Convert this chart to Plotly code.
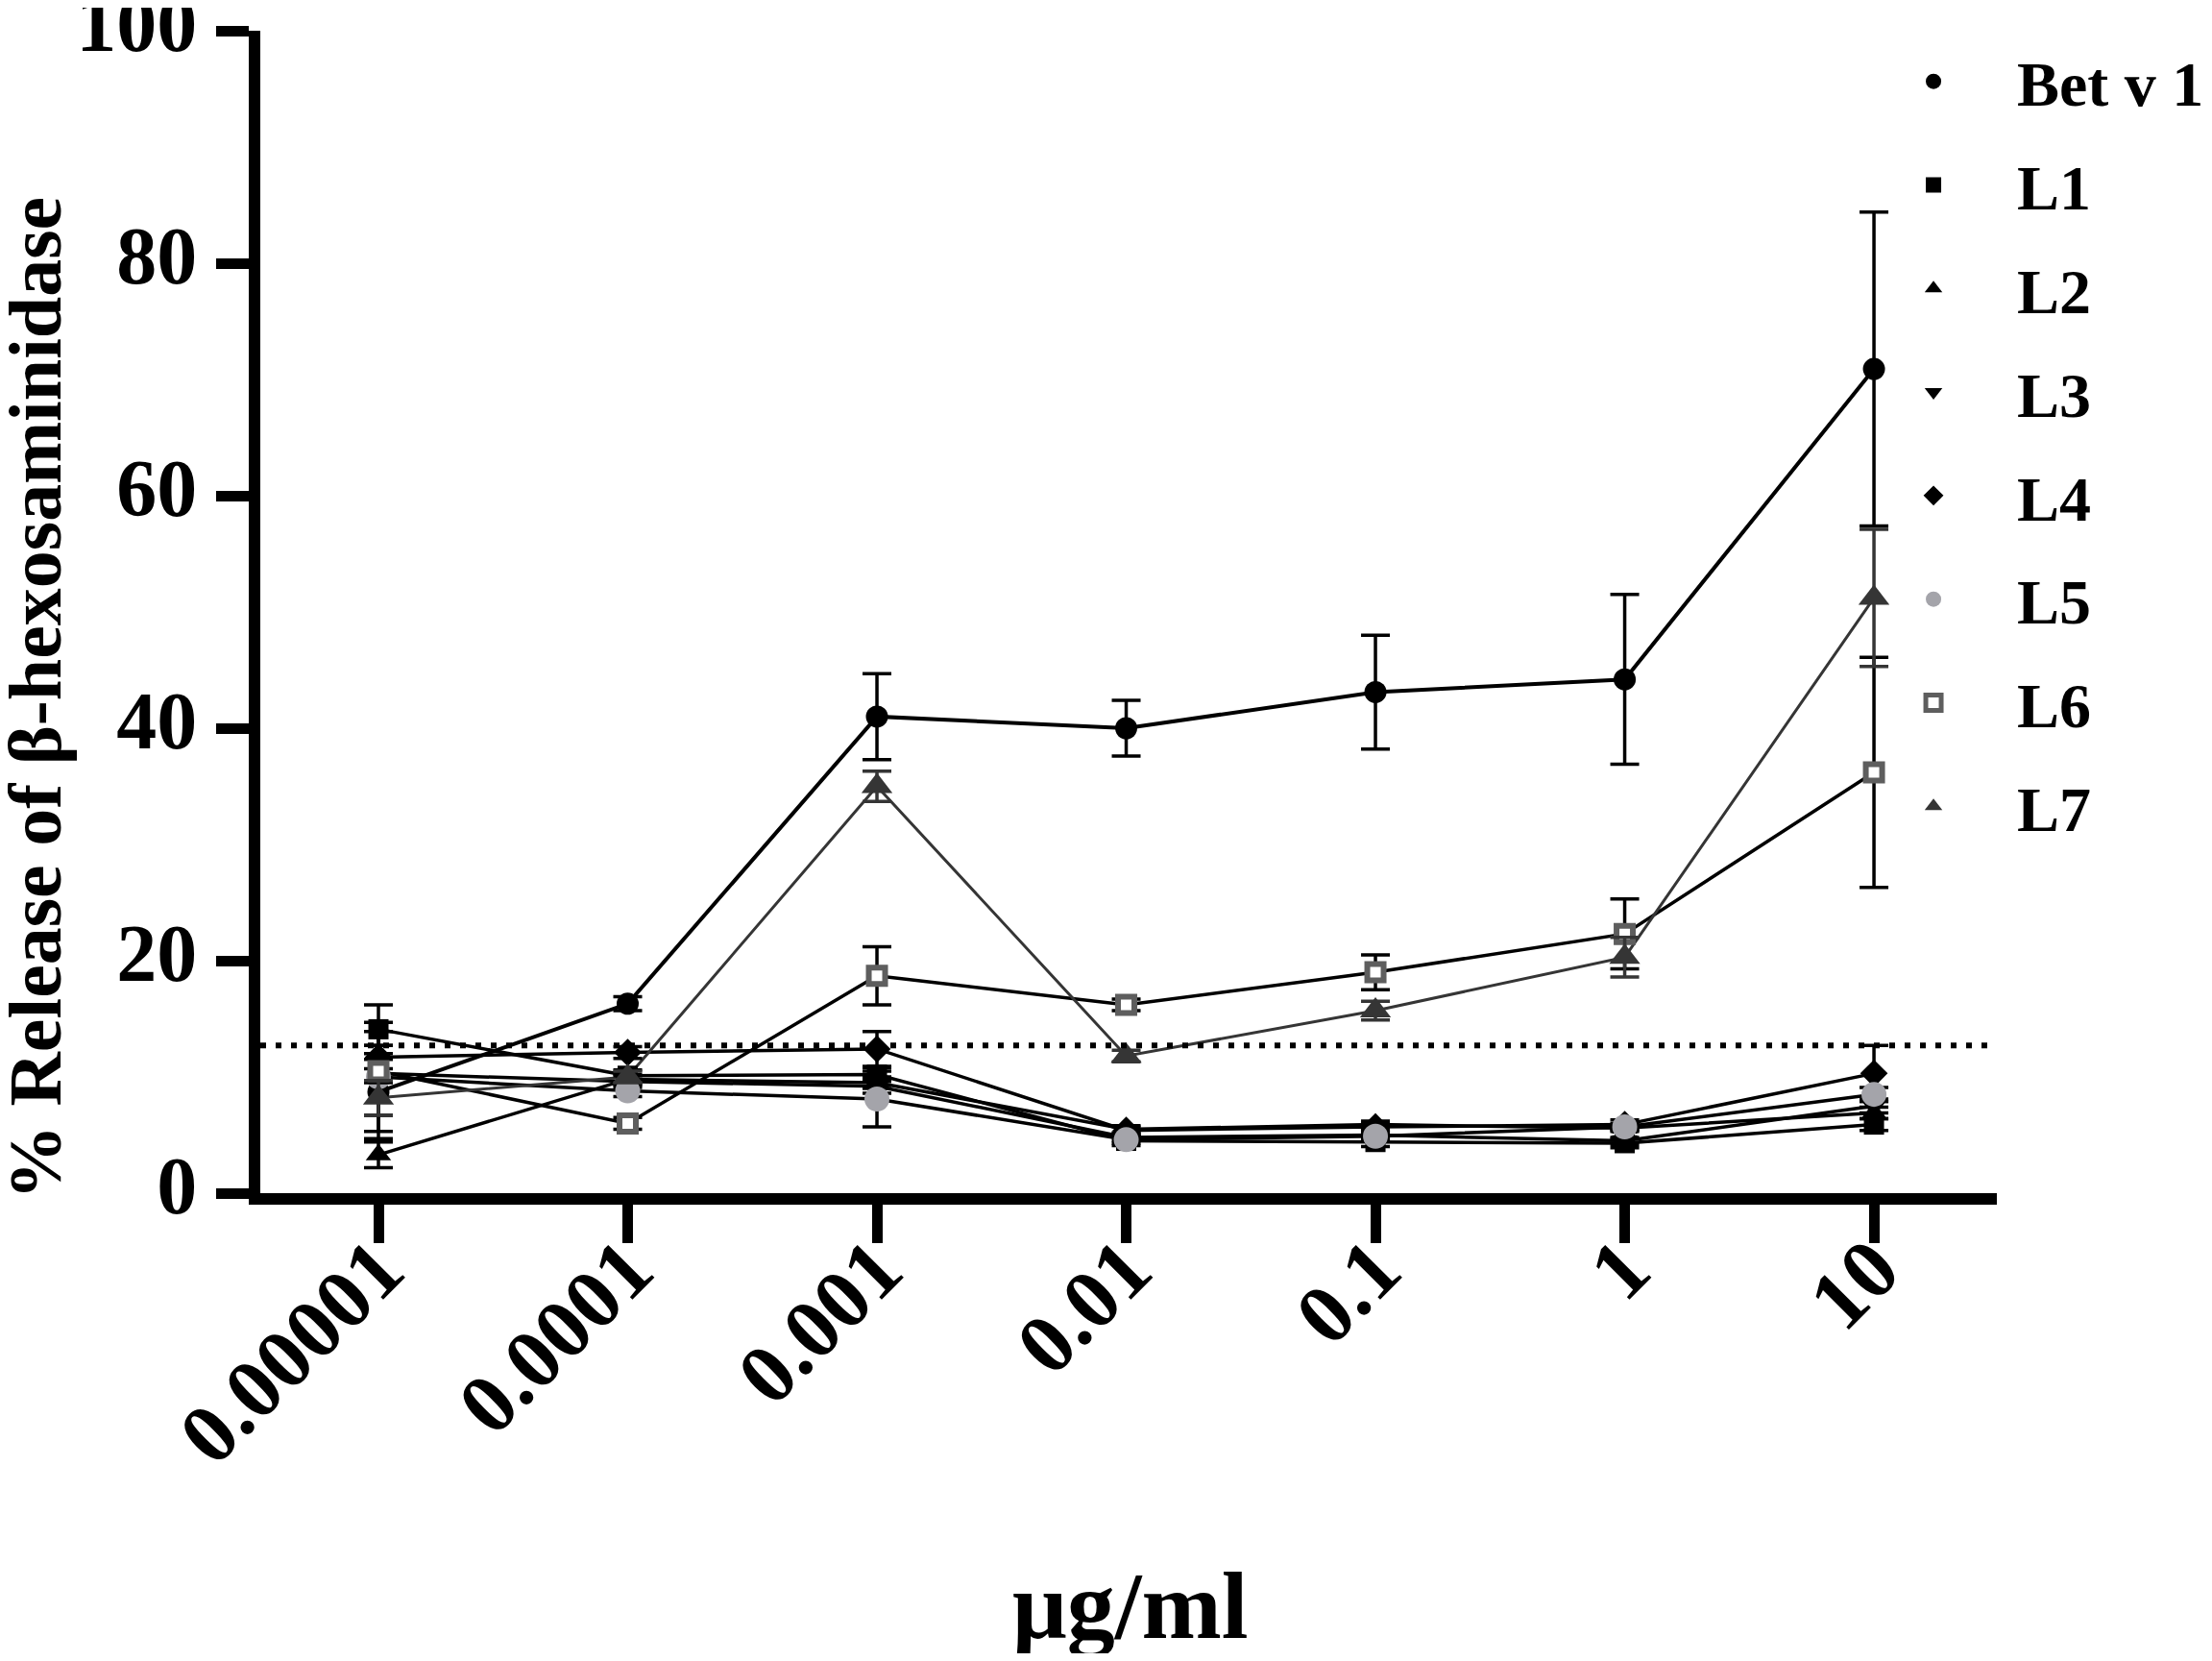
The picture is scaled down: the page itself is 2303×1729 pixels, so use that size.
import plotly.graph_objects as go

doses = ["0.00001", "0.0001", "0.001", "0.01", "0.1", "1", "10"]
y_ticks = [0, 20, 40, 60, 80, 100]
threshold = 12.7

names = ["Bet v 1", "L1", "L2", "L3", "L4", "L5", "L6", "L7"]

bet = [8.7, 16.3, 41.0, 40.0, 43.1, 44.2, 70.9]
bet_err = [4.0, 0.6, 3.7, 2.4, 4.9, 7.3, 13.5]
l1 = [14.1, 10.1, 10.2, 4.5, 4.4, 4.3, 5.9]
l1_err = [2.1, 0.5, 0.6, 0.4, 0.4, 0.4, 0.5]
l2 = [3.3, 9.8, 9.5, 5.5, 5.9, 5.6, 6.9]
l2_err = [1.1, 0.4, 0.5, 0.3, 0.3, 0.3, 0.5]
l3 = [10.3, 9.6, 9.2, 4.8, 5.0, 4.5, 7.5]
l3_err = [3.6, 0.5, 0.6, 0.3, 0.3, 0.3, 0.6]
l4 = [11.7, 12.1, 12.4, 5.4, 5.7, 5.9, 10.3]
l4_err = [1.0, 0.5, 1.5, 0.3, 0.3, 0.4, 2.4]
l5 = [10.0, 8.8, 8.1, 4.6, 4.9, 5.7, 8.5]
l5_err = [4.7, 0.5, 2.4, 0.3, 0.3, 0.3, 0.6]
l6 = [10.5, 6.0, 18.7, 16.2, 19.0, 22.3, 36.2]
l6_err = [1.0, 0.5, 2.5, 0.5, 1.5, 3.0, 9.9]
l7 = [8.2, 10.0, 35.0, 11.8, 15.7, 20.3, 51.2]
l7_err = [1.5, 0.5, 1.3, 0.5, 0.8, 1.7, 5.9]

values = [bet, l1, l2, l3, l4, l5, l6, l7]
errors = [bet_err, l1_err, l2_err, l3_err, l4_err, l5_err, l6_err, l7_err]

styles = [
    dict(symbol="circle", color="black", size=23, lc="black", lw=0, line="black", width=4),
    dict(symbol="square", color="black", size=21, lc="black", lw=0, line="black", width=3.5),
    dict(symbol="triangle-up", color="black", size=23, lc="black", lw=0, line="black", width=3.5),
    dict(symbol="triangle-down", color="black", size=23, lc="black", lw=0, line="black", width=3.5),
    dict(symbol="diamond", color="black", size=22, lc="black", lw=0, line="black", width=3.5),
    dict(symbol="circle", color="#a4a4aa", size=26, lc="#a4a4aa", lw=0, line="black", width=3.5),
    dict(symbol="square", color="white", size=17, lc="#5e5e5e", lw=6, line="black", width=3.5),
    dict(symbol="triangle-up", color="#353535", size=28, lc="#353535", lw=0, line="#353535", width=3),
]

font_family = "Liberation Serif"
fig = go.Figure()

# connecting lines (no legend)
for name, vals, st in zip(names, values, styles):
    fig.add_trace(go.Scatter(
        x=doses, y=vals, mode="lines", showlegend=False, hoverinfo="skip",
        line=dict(color=st["line"], width=st["width"]),
    ))

# markers + error bars (legend)
for name, vals, errs, st in zip(names, values, errors, styles):
    fig.add_trace(go.Scatter(
        x=doses, y=vals, mode="markers", name=name, legendgroup=name,
        marker=dict(symbol=st["symbol"], color=st["color"], size=st["size"],
                    line=dict(color=st["lc"], width=st["lw"])),
        error_y=dict(type="data", array=errs, visible=True,
                     color=st["line"], thickness=3.5, width=15),
    ))

fig.add_shape(type="line", xref="paper", yref="y", x0=0, x1=1, y0=threshold, y1=threshold,
              line=dict(color="black", width=6, dash="6px,10px"))

fig.update_layout(
    width=2287, height=1713,
    margin=dict(l=263, r=216, t=24, b=479, autoexpand=False),
    plot_bgcolor="white", paper_bgcolor="white",
    font=dict(family=font_family, color="black"),
    showlegend=True,
    legend=dict(
        x=0.9154, y=0.9973, xanchor="left", yanchor="top",
        font=dict(family=font_family, size=66, color="black", weight="bold"),
        itemwidth=164, bgcolor="rgba(0,0,0,0)",
        traceorder="grouped", tracegroupgap=19,
    ),
    xaxis=dict(
        type="category", range=[-0.474, 6.493], automargin=False,
        showline=True, linewidth=12, linecolor="black", mirror=False,
        ticks="outside", ticklen=40, tickwidth=11, tickcolor="black",
        tickangle=-45, showgrid=False, zeroline=False,
        ticklabelstandoff=-60,
        tickfont=dict(family=font_family, size=88, color="black", weight="bold"),
    ),
    yaxis=dict(
        range=[0, 100], tickvals=y_ticks, automargin=False,
        showline=True, linewidth=12, linecolor="black",
        ticks="outside", ticklen=34, tickwidth=11, tickcolor="black",
        showgrid=False, zeroline=False, ticklabeloverflow="allow",
        ticklabelstandoff=3, ticklabelshift=-8,
        tickfont=dict(family=font_family, size=84, color="black", weight="bold"),
    ),
    annotations=[
        dict(text="<b>% Release of β-hexosaminidase</b>", xref="paper", yref="paper",
             x=-0.1300, y=0.4256, xanchor="center", yanchor="middle", textangle=-90,
             showarrow=False, font=dict(family=font_family, size=78, color="black")),
        dict(text="<b>μg/ml</b>", xref="paper", yref="paper",
             x=0.501, y=-0.355, xanchor="center", yanchor="middle",
             showarrow=False, font=dict(family=font_family, size=100, color="black")),
    ],
)

fig.write_html("out.html")
